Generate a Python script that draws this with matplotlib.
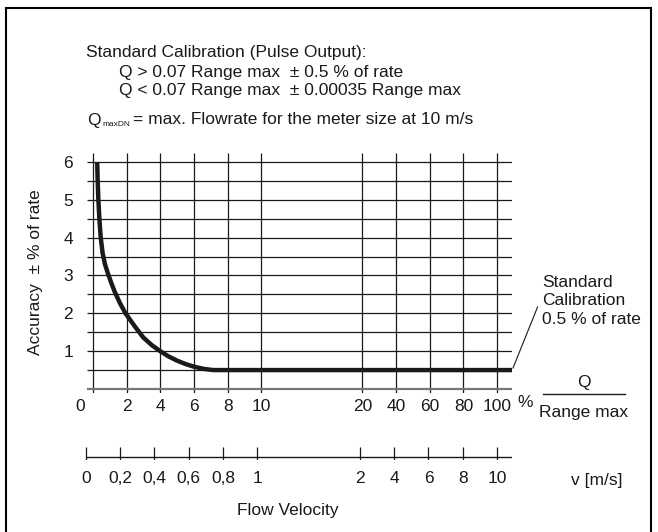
# Accuracy chart - standard calibration (pulse output)

import numpy as np
import matplotlib
matplotlib.use('Agg')
import matplotlib.pyplot as plt
from matplotlib.patches import Rectangle

plt.rcParams['font.family'] = ['Liberation Sans', 'DejaVu Sans']

# grid positions (the x scale is not linear, so use index positions)
grid_pos = [0, 1, 2, 3, 4, 5, 8, 9, 10, 11, 12]
q_labels = ['2', '4', '6', '8', '10', '20', '40', '60', '80', '100']
v_labels = ['0', '0,2', '0,4', '0,6', '0,8', '1', '2', '4', '6', '8', '10']
y_ticks = [1, 2, 3, 4, 5, 6]
y_grid = np.arange(0, 6.01, 0.5)

# accuracy curve (x in grid index units)
curve_x = [0.13, 0.145, 0.165, 0.195, 0.235, 0.29, 0.36, 0.45, 0.55, 0.65, 0.8, 0.97,
           1.25, 1.5, 1.75, 2.0, 2.25, 2.5, 2.75, 3.0, 3.3, 3.57, 12.44]
curve_y = [6.0, 5.5, 5.0, 4.5, 4.0, 3.6, 3.3, 3.05, 2.8, 2.57, 2.28, 2.0,
           1.65, 1.36, 1.16, 1.0, 0.86, 0.75, 0.66, 0.59, 0.53, 0.5, 0.5]

FS = 12.5
tc = '#1a1a1a'

W, H = 658, 532
fig = plt.figure(figsize=(W / 100, H / 100), dpi=100)

def fx(px):
    return px / W

def fy(py):
    return 1 - py / H

# main grid axes: x -0.175..12.44 (px 80..512), y -0.106..6.238 (px 393..153)
ax = fig.add_axes([fx(80), fy(393), fx(512) - fx(80), fy(153) - fy(393)])
ax.set_xlim(-0.175, 12.44)
ax.set_ylim(-0.106, 6.238)
for s in ax.spines.values():
    s.set_visible(False)

ax.vlines(grid_pos, -0.106, 6.238, color=tc, lw=0.9)
ax.hlines(y_grid[1:], -0.175, 12.44, color=tc, lw=0.9)
ax.hlines(0, -0.175, 12.44, color='#777777', lw=1.6)

ax.plot(curve_x, curve_y, color=tc, lw=3.2, solid_capstyle='butt',
        solid_joinstyle='round')

ax.set_yticks(y_ticks)
ax.set_yticklabels([str(t) for t in y_ticks], fontsize=FS)
ax.set_xticks([-0.38] + grid_pos[1:])
ax.set_xticklabels(['0'] + q_labels, fontsize=FS)
ax.tick_params(axis='both', length=0, colors=tc)
ax.tick_params(axis='y', pad=5)
ax.tick_params(axis='x', pad=4)
ax.text(12.82, -0.16, '%', fontsize=FS, ha='center', va='top', color=tc)

# "Standard Calibration 0.5 % of rate" callout
ax.plot([12.47, 13.2], [0.555, 2.17], color=tc, lw=0.8, clip_on=False)
ax.text(13.34, 2.33, 'Standard\nCalibration\n0.5 % of rate', fontsize=FS,
        ha='left', va='center', linespacing=1.3, color=tc)

# velocity scale
ax2 = fig.add_axes([fx(80), fy(460), fx(512) - fx(80), fy(447) - fy(460)])
ax2.set_xlim(-0.175, 12.44)
ax2.set_ylim(-0.25, 1)
for s in ax2.spines.values():
    s.set_visible(False)
ax2.hlines(0, 0, 12.44, color=tc, lw=1.0)
ax2.vlines(grid_pos, -0.25, 1, color=tc, lw=0.9)
ax2.set_yticks([])
ax2.set_xticks(grid_pos)
ax2.set_xticklabels(v_labels, fontsize=FS)
ax2.tick_params(axis='x', length=0, pad=8, colors=tc)

# texts around the chart
fig.text(fx(86), fy(52), 'Standard Calibration (Pulse Output):', fontsize=FS,
         va='center', color=tc)
fig.text(fx(119), fy(72), 'Q > 0.07 Range max  \u00b1 0.5 % of rate', fontsize=FS,
         va='center', color=tc)
fig.text(fx(119), fy(91), 'Q < 0.07 Range max  \u00b1 0.00035 Range max', fontsize=FS,
         va='center', color=tc)
fig.text(fx(87), fy(120), 'Q', fontsize=FS, va='center', color=tc)
fig.text(fx(102), fy(125), 'maxDN', fontsize=6, va='center', color=tc)
fig.text(fx(133), fy(120), '= max. Flowrate for the meter size at 10 m/s',
         fontsize=FS, va='center', color=tc)

fig.text(fx(36), fy(272), 'Accuracy  \u00b1 % of rate', fontsize=FS, rotation=90,
         ha='center', va='center', color=tc)

fig.text(fx(584), fy(383), 'Q', fontsize=FS, ha='center', va='center', color=tc)
fig.add_artist(plt.Line2D([fx(543), fx(625)], [fy(394), fy(394)], color=tc, lw=1.0))
fig.text(fx(584), fy(412), 'Range max', fontsize=FS, ha='center', va='center', color=tc)

fig.text(fx(571), fy(480), 'v [m/s]', fontsize=FS, ha='left', va='center', color=tc)
fig.text(fx(288), fy(510), 'Flow Velocity', fontsize=FS, ha='center', va='center', color=tc)

# outer frame
fig.add_artist(Rectangle((fx(6), fy(540)), fx(651) - fx(6), fy(8) - fy(540),
                         fill=False, ec='black', lw=1.5))

fig.savefig('out.png', dpi=100)
